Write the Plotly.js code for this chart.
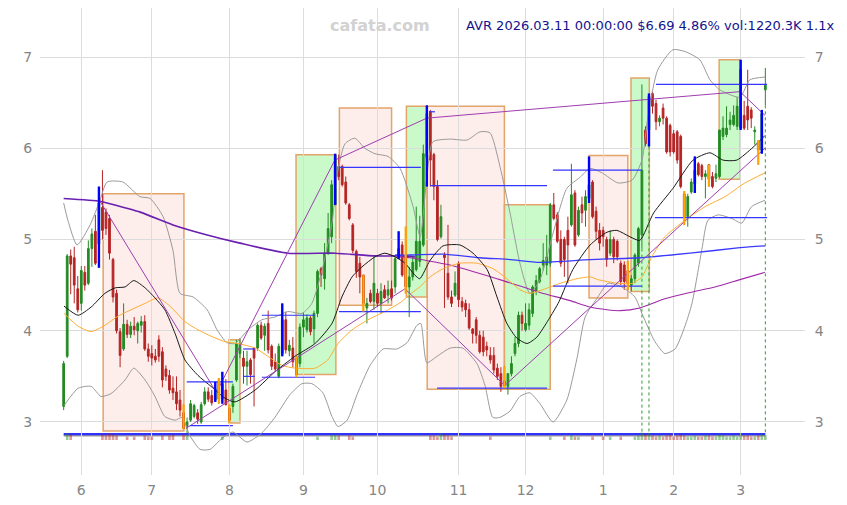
<!DOCTYPE html>
<html><head><meta charset="utf-8">
<script src="https://cdn.plot.ly/plotly-3.0.1.min.js"></script>
<style>html,body{margin:0;padding:0;background:#fff}#chart{width:847px;height:505px}</style>
</head><body><div id="chart"></div>
<script>
// ---------- DATA ----------
const startDate = '2025-05-23', endDate = '2026-03-11';
const holidays = ['2025-05-26','2025-06-19','2025-07-04','2025-09-01','2025-11-27','2025-12-25','2026-01-01','2026-01-19','2026-02-16'];

const openP = [
3.17,3.72,4.82,4.80,4.46,4.30,4.64,4.52,4.90,5.09,
4.95,5.35,5.30,5.23,4.78,4.41,3.99,3.80,4.07,3.96,
4.05,4.00,4.06,4.10,3.80,3.75,3.72,3.90,3.77,3.58,
3.51,3.37,3.33,3.24,3.10,2.95,3.02,3.06,3.10,3.00,
3.20,3.33,3.29,3.24,3.45,3.25,3.35,3.15,3.17,3.46,
3.75,3.70,3.61,3.68,3.81,3.81,4.06,3.95,4.08,3.83,
3.66,3.50,3.75,4.12,3.78,3.81,3.70,3.64,4.04,4.01,
4.14,4.02,4.19,4.68,4.57,4.85,5.03,5.38,5.80,5.80,
5.63,5.38,5.16,4.87,4.74,4.61,4.25,4.41,4.32,4.41,
4.30,4.45,4.39,4.46,4.48,4.79,4.94,4.81,4.48,4.59,
4.67,4.76,4.94,5.90,6.40,5.93,5.58,5.03,4.83,4.63,
4.37,4.39,4.74,4.32,4.30,4.23,4.02,4.12,3.95,3.93,
3.83,3.73,3.73,3.59,3.53,3.45,3.39,3.53,3.75,3.86,
4.17,4.01,4.06,4.19,4.43,4.54,4.72,4.72,4.74,5.38,
5.27,5.00,5.00,5.10,5.16,5.51,5.05,5.38,5.32,5.45,
5.63,5.31,5.10,5.10,5.00,4.85,5.00,4.98,4.74,4.72,
4.66,4.50,4.57,4.74,5.05,6.20,6.20,6.60,6.49,6.29,
6.44,6.33,6.25,6.16,6.18,6.13,5.50,5.25,5.52,5.61,
5.83,5.81,5.69,5.82,5.69,5.67,5.69,6.13,6.15,6.26,
6.26,6.24,6.22,6.36,6.46,6.42,6.18,6.07,5.98,6.64];
const highP = [
3.67,4.84,4.89,4.92,4.60,4.71,4.71,4.99,5.12,5.27,
5.58,5.76,5.34,5.27,4.80,4.45,4.03,4.30,4.12,4.10,
4.15,4.10,4.16,4.17,3.86,3.84,3.80,3.95,3.82,3.62,
3.57,3.50,3.50,3.35,3.19,3.05,3.24,3.20,3.14,3.22,
3.38,3.38,3.35,3.44,3.48,3.55,3.47,3.19,3.42,3.90,
3.92,3.78,3.78,3.70,3.81,4.08,4.10,4.08,4.22,3.85,
3.75,3.86,4.30,4.21,3.90,3.93,3.72,4.08,4.20,4.18,
4.16,4.22,4.67,4.70,4.96,5.29,5.65,5.94,5.93,5.82,
5.69,5.40,5.18,4.89,4.81,4.61,4.36,4.45,4.81,4.46,
4.52,4.50,4.55,4.55,4.81,5.09,4.98,5.14,4.70,4.82,
5.36,5.26,6.04,6.47,6.42,5.95,5.65,5.38,4.86,5.16,
4.44,4.65,4.76,4.37,4.34,4.30,4.03,4.15,4.00,4.00,
3.88,3.82,3.82,3.64,3.60,3.61,3.53,3.72,3.93,4.21,
4.21,4.30,4.30,4.50,4.61,4.70,4.96,5.05,5.40,5.51,
5.30,5.10,5.03,5.25,5.83,5.54,5.36,5.47,5.54,5.91,
5.65,5.36,5.18,5.14,5.03,5.10,5.03,5.00,4.77,4.76,
4.76,4.61,4.85,5.14,6.70,6.24,6.60,6.62,6.53,6.36,
6.49,6.35,6.27,6.20,6.20,6.15,5.53,5.50,5.67,5.91,
5.85,5.83,5.76,5.82,5.74,5.82,6.20,6.35,6.46,6.40,
6.47,6.56,6.97,6.52,6.86,6.45,6.24,6.09,6.42,6.88];
const lowP = [
3.13,3.70,4.40,4.30,4.20,4.22,4.44,4.50,4.70,4.72,
4.69,5.00,5.05,4.78,4.31,3.97,3.60,3.78,3.92,3.92,
3.95,3.86,3.98,3.78,3.66,3.62,3.65,3.66,3.38,3.45,
3.31,3.24,3.13,3.06,2.92,2.87,3.00,3.04,2.98,2.98,
3.18,3.22,3.18,3.22,3.20,3.20,3.18,2.99,3.10,3.44,
3.70,3.42,3.40,3.42,3.17,3.78,3.90,3.78,3.75,3.57,
3.56,3.48,3.72,3.75,3.72,3.60,3.49,3.60,3.93,3.98,
3.95,3.86,4.15,4.48,4.45,4.83,4.96,5.38,5.65,5.58,
5.38,5.21,4.85,4.58,4.41,4.21,4.08,4.30,4.23,4.26,
4.19,4.35,4.30,4.33,4.41,4.79,4.59,4.41,4.15,4.55,
4.65,4.70,4.92,5.58,5.58,5.43,4.98,5.01,4.25,4.34,
4.26,4.37,4.26,4.21,4.15,4.01,3.86,3.86,3.75,3.72,
3.72,3.64,3.53,3.46,3.33,3.37,3.30,3.50,3.72,3.82,
4.00,3.99,4.01,4.15,4.39,4.52,4.66,4.61,4.70,5.21,
4.96,4.70,4.59,4.52,5.14,4.92,5.03,5.18,5.14,5.40,
5.23,5.00,4.88,4.92,4.70,4.82,4.74,4.77,4.50,4.45,
4.45,4.43,4.52,4.70,4.90,6.02,6.02,6.38,6.20,6.24,
6.26,5.94,5.91,5.94,5.83,5.56,5.16,5.14,5.50,5.51,
5.69,5.65,5.45,5.58,5.56,5.63,5.67,6.09,6.12,6.20,
6.24,6.20,6.20,6.20,6.20,6.22,6.04,5.82,5.94,6.47];
const closeP = [
3.64,4.82,4.73,4.50,4.23,4.66,4.50,4.90,5.06,4.74,
5.40,5.10,5.12,4.85,4.37,4.00,3.73,4.07,3.96,4.05,
4.01,4.08,4.10,3.80,3.72,3.70,3.68,3.72,3.46,3.50,
3.35,3.32,3.20,3.13,2.93,3.00,3.20,3.18,3.03,3.19,
3.33,3.25,3.21,3.36,3.25,3.42,3.19,3.02,3.39,3.86,
3.85,3.61,3.66,3.52,3.70,4.06,3.92,4.05,3.79,3.61,
3.58,3.83,4.12,3.79,3.84,3.66,3.52,4.04,4.12,4.14,
3.99,4.19,4.65,4.61,4.85,5.12,5.60,5.92,5.69,5.60,
5.40,5.23,4.88,4.65,4.59,4.30,4.30,4.32,4.52,4.30,
4.43,4.36,4.45,4.36,4.79,4.90,4.61,4.48,4.59,4.75,
4.98,4.98,5.94,6.38,5.87,5.58,5.00,5.25,4.80,4.37,
4.30,4.52,4.34,4.26,4.23,4.03,3.97,3.95,3.77,3.77,
3.79,3.68,3.57,3.50,3.39,3.40,3.53,3.64,3.86,4.17,
4.08,4.08,4.23,4.48,4.55,4.68,4.77,4.81,5.38,5.23,
4.98,4.74,4.78,4.94,5.49,4.94,5.32,5.29,5.47,5.60,
5.25,5.09,4.96,5.03,4.78,5.00,4.81,4.81,4.54,4.54,
4.52,4.57,4.83,5.12,5.76,6.05,6.57,6.46,6.29,6.33,
6.33,5.96,5.96,5.96,5.87,5.58,5.25,5.47,5.63,5.76,
5.71,5.69,5.72,5.66,5.58,5.72,6.20,6.22,6.22,6.31,
6.36,6.46,6.86,6.22,6.31,6.33,6.20,5.98,6.38,6.69];
const volK = [
700,1300,1250,900,800,850,700,900,950,950,
980,1250,1200,1300,1250,1200,900,850,1150,800,
1150,850,800,1200,1150,1150,900,800,1200,900,
1200,1250,850,800,1250,1200,800,700,750,700,
650,700,800,850,900,1150,800,900,950,980,
800,700,650,700,900,800,700,750,800,700,
650,700,900,800,700,650,800,900,850,700,
650,800,1150,900,950,980,1200,1250,1200,900,
850,1200,1150,900,850,950,800,750,900,700,
750,700,650,700,900,950,800,900,800,850,
900,950,980,990,1200,1200,1150,1300,1250,1200,
1150,900,800,850,750,700,800,750,700,700,
750,1150,800,750,900,950,850,900,800,900,
800,700,850,900,800,850,900,950,1150,900,
850,900,1150,900,1200,1150,1150,900,800,950,
1150,850,800,1150,850,1150,800,900,1150,950,
980,900,1150,1200,1330,1250,1320,1200,1150,1200,
1150,1200,1250,1150,1200,1250,1200,1150,1150,1200,
1150,1150,1200,1200,1150,1150,1250,1200,1150,1150,
1200,1150,1300,1200,1200,1150,1150,1200,1250,1220.3];

// highlighted candles (trading-day numbers)
const blueIdx = [10,43,45,62,77,95,103,149,166,179,192,198];
const orangeIdx = [34,44,47,66,85,97,125,160,176,183,197];
const markIdx = [164,166,199];

// indicator lines: trading-day number / price
const maFastK = [0.1,4.1,7.8,11.7,14.6,17.4,19.9,23.1,25.9,28.7,31.6,34.4,38.1,41.8,45.8,48.6,54.3,59.9,65.6,71.3,76.1,78.9,81.8,84.6,88.3,91.1,94,96.8,99.6,101,103.9,107.6,112.4,116.1,120.1,122.9,125.7,128.5,131.4,134.2,137.5,140.5,144.4,149.3,154.1,156.9,160.6,163.4,167.3,172.8,178.5,183.3,187,190.9,195.5,198.9];
const maFastV = [4.27,4.17,4.26,4.41,4.47,4.48,4.55,4.47,4.36,4.23,3.97,3.68,3.51,3.39,3.26,3.22,3.35,3.55,3.72,3.86,4.08,4.37,4.59,4.70,4.81,4.85,4.81,4.74,4.61,4.57,4.77,4.93,4.94,4.85,4.67,4.37,4.08,3.92,3.86,3.93,4.12,4.32,4.67,4.94,5.08,5.10,5.03,4.99,5.29,5.56,5.87,5.95,5.87,5.87,6.01,6.14];
const maMidK = [0.1,4.1,7.8,11.7,15.4,19.1,23.1,26.8,30.4,34.4,38.1,41.8,45.8,49.4,54.3,57.9,61.9,65.6,71.3,74.9,77.8,81.8,86.3,91.1,95.9,98.2,101,103.9,107.6,112.4,117.2,121.8,125.7,129.4,132.2,135.9,140.8,145.6,149.3,151.5,157.2,161.2,164,166.8,170.5,176.2,181.9,187.6,193.2,198.9];
const maMidV = [4.19,4.05,3.99,4.06,4.16,4.23,4.30,4.36,4.26,4.10,4.01,3.94,3.88,3.86,3.81,3.72,3.62,3.59,3.59,3.68,3.86,4.01,4.12,4.21,4.32,4.40,4.48,4.59,4.68,4.74,4.74,4.68,4.57,4.45,4.41,4.45,4.52,4.57,4.59,4.56,4.52,4.52,4.59,4.81,5.03,5.21,5.36,5.47,5.62,5.73];
const bandUpK = [0,1.2,3.8,7.5,10.3,12.3,16.8,21.6,24.5,28.2,31,33,36.7,40.7,43.5,46.3,48.6,52.3,56.2,59.9,63.6,67.6,70.4,73.3,76.1,77.8,79.8,82.6,85.4,88.3,92,95.4,99.1,101.1,103,104.7,109.6,114.4,118.1,120.9,123.8,126.6,129.4,132.2,135.1,138.8,142.7,146.4,149.3,152.7,157.2,161.2,164,165.7,168.5,172.8,176.2,180.4,183.3,186.1,191.8,194.6,198.9];
const bandUpV = [5.40,5.21,4.94,5.16,5.43,5.63,5.63,5.47,5.45,5.25,4.88,4.41,4.37,4.23,4.01,3.87,3.86,4.01,4.12,4.15,4.21,4.19,4.30,4.67,5.18,5.76,6.05,6.11,6.00,5.94,5.91,5.78,5.36,5.03,5.68,6.07,6.10,6.09,6.18,6.17,5.79,5.29,4.74,4.41,4.56,5.07,5.56,5.68,5.78,5.73,5.62,5.65,5.87,6.35,6.86,7.08,7.06,6.97,6.75,6.64,6.56,6.75,6.78];
const bandLoK = [0.1,4.1,7.8,10.6,13.4,17.4,19.9,23.1,25.9,28.7,31.6,33.6,35.8,38.7,41.5,44.9,48,52,56.2,59.9,64.2,67.6,70.4,73.5,76.1,77.8,80.4,83.2,86.9,90.6,94.5,97.4,100.2,101.3,103,105.9,109.6,113.2,117.2,119.5,121.7,123.7,126.6,129.4,132.2,135.1,138.8,142.7,145.6,147.9,151.5,154.4,158.3,162,164,165.7,167.7,170.5,173.4,176.2,178.2,181,182.7,185.6,189.5,192.3,195.1,198.9];
const bandLoV = [3.18,3.37,3.39,3.28,3.31,3.46,3.59,3.46,3.28,3.06,3.02,3.05,2.85,2.70,2.70,2.82,2.89,2.78,2.88,3.05,3.30,3.42,3.42,3.32,3.06,2.95,3.02,3.30,3.62,3.80,3.80,3.87,4.06,4.08,3.65,3.72,3.81,3.81,3.64,3.40,3.05,3.05,3.12,3.28,3.32,3.20,3.00,3.24,3.70,4.15,4.37,4.52,4.48,4.37,4.19,4.04,3.88,3.75,3.80,4.05,4.30,4.89,5.21,5.27,5.23,5.18,5.36,5.43];
const maLongAK = [0,10.3,12.3,21.7,31,40.7,50,63.6,77,88.3,95.4,99.6];
const maLongAV = [5.45,5.42,5.40,5.30,5.16,5.05,4.96,4.85,4.85,4.82,4.82,4.81];
const maLongBK = [94,98.3,107.6,118.1,126.6,135.1,149.3,163.4,177.6,191.8,198.9];
const maLongBV = [4.83,4.83,4.84,4.80,4.78,4.75,4.78,4.80,4.85,4.91,4.93];
const maLongCK = [95.4,98.3,109.6,123.7,135.1,143.6,149.3,154.1,157.8,163.4,170.5,177.6,184.7,191.8,198.9];
const maLongCV = [4.81,4.80,4.72,4.56,4.42,4.33,4.26,4.23,4.22,4.25,4.35,4.42,4.48,4.56,4.64];

// swing / trend lines: from (k1,v1) to (k2,v2)
const zzK1 = [10.3,43.8,76.9,103,191.8,34.7,96.8,125.1];
const zzV1 = [5.42,3.36,5.87,6.33,6.62,2.93,4.46,3.40];
const zzK2 = [43.2,76.9,103,191.8,198.9,96.8,125.1,198.9];
const zzV2 = [3.33,5.87,6.33,6.62,6.36,4.46,3.40,6.00];

// zones (boxes)
const boxStart = [11.2,46.9,65.9,78.2,97.2,103.1,125.0,149.0,160.9,185.9];
const boxEnd   = [34.1,50.0,77.2,93.0,103.1,125.0,138.0,160.0,166.1,191.9];
const boxHigh  = [5.50,3.90,5.93,6.44,6.46,6.46,5.38,5.92,6.77,6.97];
const boxLow   = [2.90,2.99,3.52,4.28,4.37,3.36,3.36,4.36,4.43,5.66];
const boxKind  = ['dn','up','up','dn','up','dn','up','dn','up','up'];

// horizontal levels
const levStart = [34.9,35.8,50.9,50.9,56.2,56.2,78.1,78.4,103.6,103.9,105.9,138.8,138.8,168.0,167.7];
const levEnd   = [48.0,48.0,54.2,54.2,71.3,71.3,101.3,101.3,105.3,137.1,137.1,164.0,164.0,199.5,199.5];
const levValue = [3.44,2.96,3.80,3.50,4.17,3.49,4.21,5.79,6.40,5.59,3.37,5.76,4.49,6.70,5.24];

const baseBlue = 2.866, baseGrey = 2.848;
const titleText = 'AVR 2026.03.11 00:00:00 $6.69 4.86% vol:1220.3K 1.1x';
const yTicks = [3,4,5,6,7];

// ---------- BUILD ----------
function tradingDays(start, end){
  const out=[]; const d=new Date(start+'T00:00:00Z'); const e=new Date(end+'T00:00:00Z');
  while(d<=e){ const wd=d.getUTCDay(); const s=d.toISOString().slice(0,10);
    if(wd!==0 && wd!==6 && !holidays.includes(s)) out.push(s);
    d.setUTCDate(d.getUTCDate()+1); }
  return out;
}
const dates = tradingDays(startDate, endDate);
const idx = dates.map((_,k)=>k);
const tickvals=[], ticktext=[];
dates.forEach((d,k)=>{ if(k>0 && d.slice(5,7)!==dates[k-1].slice(5,7)){ tickvals.push(k); ticktext.push(String(+d.slice(5,7))); } });

function line(xs, ys, color, width, extra){
  return Object.assign({type:'scatter', mode:'lines', x:xs, y:ys, hoverinfo:'skip', showlegend:false,
    line:{color:color, width:width, shape:'spline', smoothing:0.6}}, extra||{});
}
function segs(k1,v1,k2,v2){ const x=[],y=[]; k1.forEach((k,j)=>{x.push(k,k2[j],null); y.push(v1[j],v2[j],null);}); return {x,y}; }
function wicks(list){ const x=[],y=[]; list.forEach(k=>{x.push(k,k,null); y.push(highP[k],lowP[k],null);}); return {x,y}; }

const traces = [];
// volume (own strip)
traces.push({type:'bar', x:idx, y:volK, yaxis:'y3', hoverinfo:'skip', showlegend:false,
  marker:{color: idx.map(k=> closeP[k]>=openP[k] ? 'rgba(34,139,34,0.45)' : 'rgba(178,34,34,0.45)'), line:{width:0}}});
// base lines
traces.push({type:'scatter', mode:'lines', x:[idx[0], idx[idx.length-1]], y:[baseGrey, baseGrey], line:{color:'#9a9a9a', width:1.5}, hoverinfo:'skip', showlegend:false});
traces.push({type:'scatter', mode:'lines', x:[idx[0], idx[idx.length-1]], y:[baseBlue, baseBlue], line:{color:'#3030ff', width:2.2}, hoverinfo:'skip', showlegend:false});
// bands & averages
traces.push(line(bandUpK, bandUpV, '#9a9a9a', 1));
traces.push(line(bandLoK, bandLoV, '#9a9a9a', 1));
traces.push(line(maLongAK, maLongAV, '#6a1fb0', 1.6));
traces.push(line(maLongBK, maLongBV, '#3a3aff', 1.3));
traces.push(line(maLongCK, maLongCV, '#a02aa8', 1.1));
traces.push(line(maMidK, maMidV, '#ffad33', 1));
traces.push(line(maFastK, maFastV, '#1a1a1a', 1));
// candles
traces.push({type:'candlestick', x:idx, open:openP, high:highP, low:lowP, close:closeP, hoverinfo:'skip', showlegend:false,
  whiskerwidth:0,
  increasing:{line:{color:'#238b23', width:1}, fillcolor:'#238b23'},
  decreasing:{line:{color:'#b52424', width:1}, fillcolor:'#b52424'}});
// swing lines
const zz = segs(zzK1, zzV1, zzK2, zzV2);
traces.push({type:'scatter', mode:'lines', x:zz.x, y:zz.y, line:{color:'#a03cb0', width:1}, hoverinfo:'skip', showlegend:false});
// levels
const lv = segs(levStart, levValue, levEnd, levValue);
traces.push({type:'scatter', mode:'lines', x:lv.x, y:lv.y, line:{color:'#3535ff', width:1.2}, hoverinfo:'skip', showlegend:false});
// marker verticals
const mv = {x:[], y:[]}; markIdx.forEach(k=>{ mv.x.push(k,k,null); mv.y.push(lowP[k], baseBlue, null); });
traces.push({type:'scatter', mode:'lines', x:mv.x, y:mv.y, line:{color:'#2e9a2e', width:1, dash:'dot'}, hoverinfo:'skip', showlegend:false});
// highlighted wicks
const bw = wicks(blueIdx), ow = wicks(orangeIdx);
traces.push({type:'scatter', mode:'lines', x:ow.x, y:ow.y, line:{color:'#ffa500', width:2.2}, hoverinfo:'skip', showlegend:false});
traces.push({type:'scatter', mode:'lines', x:bw.x, y:bw.y, line:{color:'#0000ff', width:2.4}, hoverinfo:'skip', showlegend:false});
// dummy for right axis
traces.push({type:'scatter', mode:'markers', x:[idx[0]], y:[closeP[0]], yaxis:'y2', marker:{opacity:0}, hoverinfo:'skip', showlegend:false});

const shapes = boxStart.map((s,j)=>({type:'rect', xref:'x', yref:'y', x0:s, x1:boxEnd[j], y0:boxLow[j], y1:boxHigh[j], layer:'below',
  line:{color:'#e3a46a', width:1.5}, fillcolor: boxKind[j]==='up' ? 'rgba(150,245,150,0.5)' : 'rgba(250,215,210,0.45)'}));

const tickFont = {family:'DejaVu Sans', size:14, color:'#858585'};
const yRange = [2.419, 7.537];
const layout = {
  width:847, height:505, margin:{l:40, r:42, t:8, b:30},
  paper_bgcolor:'#ffffff', plot_bgcolor:'rgba(0,0,0,0)', showlegend:false, bargap:0.25,
  xaxis:{range:[-6.71, 210.25], tickvals:tickvals, ticktext:ticktext, showgrid:true, gridcolor:'#dcdcdc', gridwidth:1,
    zeroline:false, showline:false, ticks:'outside', ticklen:2, tickcolor:'rgba(0,0,0,0)', tickfont:tickFont,
    rangeslider:{visible:false}, fixedrange:true},
  yaxis:{range:yRange, tickvals:yTicks, showgrid:true, gridcolor:'#dcdcdc', gridwidth:1, zeroline:false, showline:false,
    ticks:'outside', ticklen:4, tickcolor:'rgba(0,0,0,0)', tickfont:tickFont, fixedrange:true},
  yaxis2:{overlaying:'y', side:'right', range:yRange, tickvals:yTicks, showgrid:false, zeroline:false, showline:false,
    ticks:'outside', ticklen:6, tickcolor:'rgba(0,0,0,0)', tickfont:tickFont, fixedrange:true},
  yaxis3:{domain:[0.0749, 0.1092], anchor:'x', range:[1000, 1710], visible:false, fixedrange:true},
  shapes:shapes,
  annotations:[
    {xref:'paper', yref:'paper', x:0.4444, y:0.9615, xanchor:'center', yanchor:'middle', showarrow:false,
     text:'<b>cafata.com</b>', font:{family:'DejaVu Sans', size:16, color:'#d2d2d2'}},
    {xref:'paper', yref:'paper', x:1.0405, y:0.9615, xanchor:'right', yanchor:'middle', showarrow:false,
     text:titleText, font:{family:'DejaVu Sans', size:13, color:'#13138f'}}
  ]
};
Plotly.newPlot('chart', traces, layout, {displayModeBar:false, staticPlot:true});
</script>
</body></html>
